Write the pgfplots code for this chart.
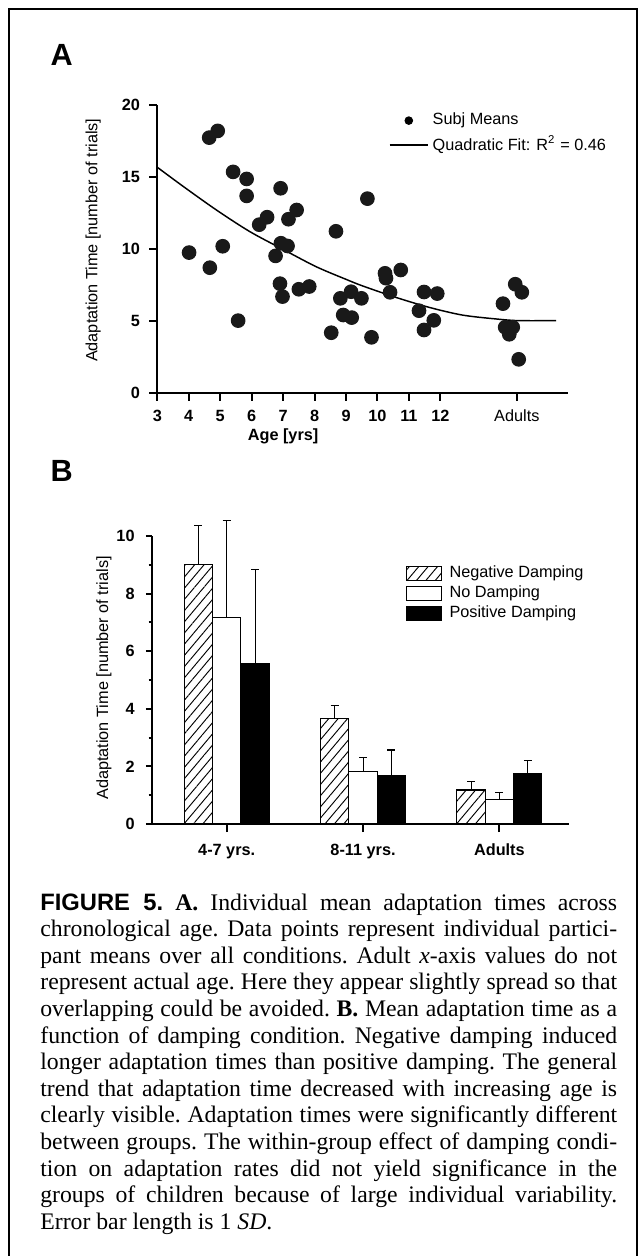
\documentclass[border=0pt]{standalone}
\usepackage{fontspec}
\setmainfont{Liberation Serif}
\setsansfont{Liberation Sans}
\usepackage{pgfplots}
\pgfplotsset{compat=1.18}
\usetikzlibrary{patterns.meta}

\pgfplotsset{
  common/.style={
    scale only axis, anchor=south west, clip=false,
    axis lines=left,
    axis line style={-, line width=0.75pt, black},
    tick style={line width=0.75pt, black},
    tick align=outside,
    major tick length=3pt,
    tick label style={font=\sffamily\bfseries\fontsize{6.1}{7}\selectfont},
    xticklabel style={text height=4.4pt, text depth=1.2pt},
    label style={font=\sffamily\fontsize{6.1}{7}\selectfont},
    /pgf/number format/assume math mode=true,
  }
}

\begin{document}
\begin{tikzpicture}
\path[use as bounding box] (0,0) rectangle (240.75pt,-471pt);
\draw[line width=0.75pt] (3.38pt,-471pt) -- (3.38pt,-3.49pt) -- (239pt,-3.49pt) -- (239pt,-471pt);
\node[font=\sffamily\bfseries\fontsize{11.5}{12}\selectfont] at (23.14pt,-20.63pt) {A};
\node[font=\sffamily\bfseries\fontsize{11.5}{12}\selectfont] at (23.14pt,-176.74pt) {B};

% ---------------- Panel A ----------------
\begin{axis}[common,
  at={(58.99pt,-147.26pt)},
  width=154.16pt, height=107.89pt,
  xmin=3, xmax=16.07, ymin=0, ymax=20,
  xtick={3,4,5,6,7,8,9,10,11,12,14.43},
  xticklabels={3,4,5,6,7,8,9,10,11,12,{\mdseries Adults}},
  ytick={0,5,10,15,20},
  ylabel={Adaptation Time [number of trials]},
  ylabel style={at={(axis description cs:-0.156,0.53)}, anchor=center},
  xlabel={Age [yrs]},
  xlabel style={at={(axis description cs:0.306,-0.15)}, anchor=center, font=\sffamily\bfseries\fontsize{6.1}{7}\selectfont},
  legend style={at={(0.562,0.975)}, anchor=north west, draw=none, fill=none,
    font=\sffamily\fontsize{6.1}{7}\selectfont, inner sep=0pt, row sep=2.6pt,
    nodes={inner sep=0pt}},
  legend cell align=left,
  /tikz/every odd column/.append style={column sep=1.5pt},
]
\addplot[only marks, mark=*, mark size=2.55pt, mark options={fill=black!90, draw=black!90},
  legend image code/.code={\fill[black] (7.2pt,0pt) circle (1.4pt); \path[draw=none] (0pt,0pt) rectangle (14.4pt,0.1pt);}]
coordinates {
(4.01,9.74) (4.65,17.73) (4.92,18.2) (4.67,8.69) (5.08,10.18) (5.41,15.35)
(5.57,5.01) (5.84,14.86) (5.84,13.68) (6.24,11.68) (6.49,12.20) (6.92,14.21)
(6.93,10.39) (7.14,10.20) (6.76,9.51) (6.90,7.58) (6.98,6.68) (7.17,12.06)
(7.43,12.70) (7.50,7.19) (7.83,7.38) (8.68,11.22) (8.53,4.17) (8.82,6.56)
(9.16,7.02) (9.49,6.56) (8.91,5.40) (9.18,5.22) (9.68,13.49) (9.81,3.85)
(10.24,8.30) (10.27,7.96) (10.40,6.98) (10.74,8.53) (11.48,7.00) (11.90,6.89)
(11.32,5.70) (11.79,5.03) (11.48,4.36)
(14.38,7.54) (14.59,6.98) (13.99,6.19) (14.06,4.55) (14.30,4.55) (14.19,4.06)
(14.22,4.40) (14.49,2.32)
};
\addlegendentry{Subj Means}
\addplot[black, line width=0.55pt, smooth, no marks,
  legend image code/.code={\draw[black, line width=0.55pt] (0pt,0pt) -- (14.4pt,0pt);}]
coordinates {
(3,15.67) (3.83,14.33) (4.88,12.70) (5.94,11.20) (6.99,9.97) (8.05,8.76)
(9.0,7.88) (9.53,7.42) (10.58,6.63) (11.63,5.94) (12.69,5.40) (13.75,5.13)
(14.48,5.01) (15.68,5.01)
};
\addlegendentry{Quadratic Fit: R\textsuperscript{2} = 0.46}
\end{axis}

% ---------------- Panel B ----------------
\begin{axis}[common,
  at={(57pt,-309pt)},
  width=156.4pt, height=108pt,
  xmin=-0.548, xmax=2.511, ymin=0, ymax=10,
  ybar, bar width=0.208,
  xtick={0,1,2},
  xticklabels={4-7 yrs.,8-11 yrs.,Adults},
  xticklabel style={yshift=-1pt},
  ytick={0,2,4,6,8,10},
  minor ytick={1,3,5,7,9},
  ytick style={/pgfplots/major tick length=2.25pt},
  minor tick length=1.3pt,
  ylabel={Adaptation Time [number of trials]},
  ylabel style={at={(axis description cs:-0.115,0.507)}, anchor=center},
  legend style={at={(0.608,0.9)}, anchor=north west, draw=none, fill=none,
    font=\sffamily\fontsize{6.1}{7}\selectfont, inner sep=0pt, row sep=1.6pt,
    nodes={inner sep=0pt}},
  legend cell align=left,
  /tikz/every odd column/.append style={column sep=2.8pt},
  legend image code/.code={\draw[#1, draw=black, line width=0.4pt] (0pt,-2.6pt) rectangle (13.1pt,2.6pt);},
  error bars/y dir=plus, error bars/y explicit,
  error bars/error bar style={line width=0.4pt, black},
  error bars/error mark options={rotate=90, mark size=1.5pt, line width=0.4pt, black},
]
\addplot[bar shift=-0.208, draw=black, line width=0.4pt, fill=white,
  postaction={pattern={Lines[angle=50,distance=2.7pt,line width=0.35pt]}}]
coordinates {(0,9.00) +- (0,1.35) (1,3.65) +- (0,0.47) (2,1.18) +- (0,0.31)};
\addlegendentry{Negative Damping}
\addplot[bar shift=0, draw=black, line width=0.4pt, fill=white]
coordinates {(0,7.18) +- (0,3.35) (1,1.81) +- (0,0.51) (2,0.86) +- (0,0.22)};
\addlegendentry{No Damping}
\addplot[bar shift=0.208, draw=black, line width=0.4pt, fill=black]
coordinates {(0,5.57) +- (0,3.28) (1,1.69) +- (0,0.88) (2,1.75) +- (0,0.47)};
\addlegendentry{Positive Damping}
\end{axis}

% ---------------- Caption ----------------
\node[anchor=base west, inner sep=0pt, text width=216.3pt, align=justify,
  font=\fontsize{8.9}{9.98}\selectfont] at (14.93pt,-341.25pt) {%
\frenchspacing\hyphenpenalty=10000 \exhyphenpenalty=10000 \tolerance=10000
{\sffamily\bfseries FIGURE 5.} \textbf{A.} Individual mean adaptation times across\linebreak
chronological age. Data points represent individual partici-\linebreak
pant means over all conditions. Adult \textit{x}-axis values do not\linebreak
represent actual age. Here they appear slightly spread so that\linebreak
overlapping could be avoided. \textbf{B.} Mean adaptation time as a\linebreak
function of damping condition. Negative damping induced\linebreak
longer adaptation times than positive damping. The general\linebreak
trend that adaptation time decreased with increasing age is\linebreak
clearly visible. Adaptation times were significantly different\linebreak
between groups. The within-group effect of damping condi-\linebreak
tion on adaptation rates did not yield significance in the\linebreak
groups of children because of large individual variability.\linebreak
Error bar length is 1 \textit{SD}.};
\end{tikzpicture}
\end{document}
